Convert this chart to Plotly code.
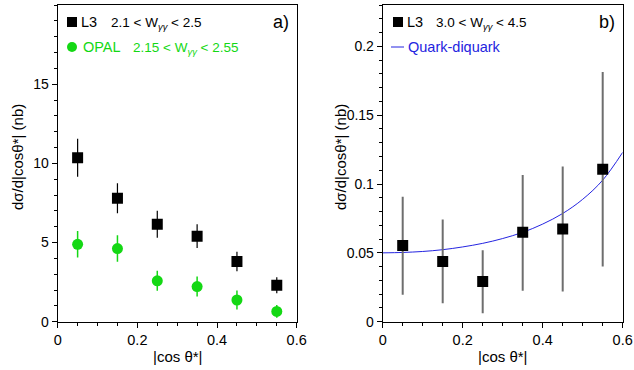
import plotly.graph_objects as go

# ---------------- data ----------------
cos_bins = [0.05, 0.15, 0.25, 0.35, 0.45, 0.55]

# panel a) L3 2.1 < W < 2.5
l3a_y = [10.35, 7.8, 6.15, 5.4, 3.8, 2.3]
l3a_err = [1.2, 0.95, 0.85, 0.75, 0.62, 0.5]

# panel a) OPAL 2.15 < W < 2.55
opal_y = [4.89, 4.62, 2.58, 2.22, 1.37, 0.65]
opal_err = [0.84, 0.84, 0.63, 0.63, 0.6, 0.4]

# panel b) L3 3.0 < W < 4.5
l3b_y = [0.0553, 0.0438, 0.0292, 0.065, 0.0674, 0.1107]
l3b_hi = [0.0908, 0.0742, 0.0518, 0.1066, 0.1127, 0.1813]
l3b_lo = [0.0195, 0.0134, 0.0061, 0.0224, 0.0219, 0.0401]

# quark-diquark curve
qd_x = [0.0, 0.05, 0.1, 0.15, 0.2, 0.25, 0.3, 0.35, 0.4, 0.45, 0.5, 0.55, 0.6]
qd_y = [0.0500, 0.0503, 0.0510, 0.0523, 0.0543, 0.0569, 0.0604, 0.0649, 0.0709,
        0.0786, 0.0889, 0.1028, 0.1230]

x_ticks = [0, 0.2, 0.4, 0.6]
x_ticklabels = ["0", "0.2", "0.4", "0.6"]
ya_ticks = [0, 5, 10, 15]
yb_ticks = [0, 0.05, 0.1, 0.15, 0.2]
yb_ticklabels = ["0", "0.05", "0.1", "0.15", "0.2"]

GREEN = "#14d814"
BLUE = "#2424e0"
GRAY = "#6e6e6e"
FONT = "Liberation Sans, Arial, sans-serif"

W, H = 634, 370
def px(x):
    return x / W
def py(y):
    return 1 - y / H

fig = go.Figure()

up_b = [h - v for h, v in zip(l3b_hi, l3b_y)]
dn_b = [v - l for v, l in zip(l3b_y, l3b_lo)]

fig.add_trace(go.Scatter(x=cos_bins, y=opal_y, mode="markers",
                         marker=dict(symbol="circle", size=11, color=GREEN),
                         error_y=dict(type="data", array=opal_err, width=0,
                                      thickness=1.5, color=GREEN),
                         xaxis="x", yaxis="y", showlegend=False))
fig.add_trace(go.Scatter(x=cos_bins, y=l3a_y, mode="markers",
                         marker=dict(symbol="square", size=11, color="black"),
                         error_y=dict(type="data", array=l3a_err, width=0,
                                      thickness=1.2, color="black"),
                         xaxis="x", yaxis="y", showlegend=False))

fig.add_trace(go.Scatter(x=qd_x, y=qd_y, mode="lines",
                         line=dict(color=BLUE, width=1, shape="spline"),
                         xaxis="x2", yaxis="y2", showlegend=False))
fig.add_trace(go.Scatter(x=cos_bins, y=l3b_y, mode="markers",
                         marker=dict(symbol="square", size=11, color="black"),
                         error_y=dict(type="data", symmetric=False, array=up_b,
                                      arrayminus=dn_b, width=0, thickness=2,
                                      color=GRAY),
                         xaxis="x2", yaxis="y2", showlegend=False))

ybot, ytop = py(321.7), py(5)
common_x = dict(range=[0, 0.6], tickvals=x_ticks, ticktext=x_ticklabels,
                showline=True, linecolor="black", linewidth=1, mirror=True,
                ticks="outside", ticklen=5, tickcolor="black",
                tickfont=dict(size=14.5, color="black", family=FONT),
                showgrid=False, zeroline=False, automargin=False,
                minor=dict(dtick=0.05, ticks="outside", ticklen=3,
                           tickcolor="black", showgrid=False))
common_y = dict(showline=True, linecolor="black", linewidth=1, mirror=True,
                ticks="outside", ticklen=5, tickcolor="black",
                tickfont=dict(size=14, color="black", family=FONT),
                showgrid=False, zeroline=False, automargin=False)

fig.update_layout(
    width=W, height=H,
    margin=dict(l=0, r=0, t=0, b=0),
    paper_bgcolor="white", plot_bgcolor="white",
    font=dict(family=FONT, color="black"),
    xaxis=dict(domain=[px(57.7), px(296.7)], anchor="y", **common_x),
    yaxis=dict(domain=[ybot, ytop], anchor="x", range=[0, 20],
               tickvals=ya_ticks,
               minor=dict(dtick=1, ticks="outside", ticklen=3,
                          tickcolor="black", showgrid=False),
               **common_y),
    xaxis2=dict(domain=[px(382.7), px(622.7)], anchor="y2", **common_x),
    yaxis2=dict(domain=[ybot, ytop], anchor="x2", range=[0, 0.23],
                tickvals=yb_ticks, ticktext=yb_ticklabels,
                minor=dict(dtick=0.01, ticks="outside", ticklen=3,
                           tickcolor="black", showgrid=False),
                **common_y),
)

ann = []
def text(x, y, s, size=14, color="black", xanchor="left", angle=0):
    ann.append(dict(x=px(x), y=py(y), xref="paper", yref="paper", text=s,
                    showarrow=False, xanchor=xanchor, yanchor="middle",
                    textangle=angle, font=dict(size=size, color=color, family=FONT)))

wgg = "W<sub><i>γγ</i></sub>"
# panel a legend
text(79, 22, "L3", size=14.5)
text(109, 23, f"2.1 &lt; {wgg} &lt; 2.5", size=13.5)
text(81, 47, "OPAL", size=14.5, color=GREEN)
text(131, 48, f"2.15 &lt; {wgg} &lt; 2.55", size=13.5, color=GREEN)
text(291, 22, "a)", size=18, xanchor="right")
# panel b legend
text(405, 22, "L3", size=14.5)
text(434, 23, f"3.0 &lt; {wgg} &lt; 4.5", size=13.5)
text(406, 47, "Quark-diquark", size=14.5, color=BLUE)
text(617, 22, "b)", size=18, xanchor="right")
# axis titles
text(177, 356, "|cos θ*|", size=15, xanchor="center")
text(502.7, 356, "|cos θ*|", size=15, xanchor="center")
text(17, 157, "dσ/d|cosθ*| (nb)", size=15, xanchor="center", angle=-90)
text(340, 157, "dσ/d|cosθ*| (nb)", size=15, xanchor="center", angle=-90)
fig.update_layout(annotations=ann)

# legend keys
shapes = [
    dict(type="rect", xref="paper", yref="paper", x0=px(67), x1=px(77),
         y0=py(27), y1=py(17), fillcolor="black", line=dict(width=0)),
    dict(type="circle", xref="paper", yref="paper", x0=px(67), x1=px(77),
         y0=py(52), y1=py(42), fillcolor=GREEN, line=dict(width=0)),
    dict(type="rect", xref="paper", yref="paper", x0=px(393), x1=px(403),
         y0=py(27), y1=py(17), fillcolor="black", line=dict(width=0)),
    dict(type="line", xref="paper", yref="paper", x0=px(391), x1=px(404),
         y0=py(47), y1=py(47), line=dict(color=BLUE, width=1)),
]
fig.update_layout(shapes=shapes)

fig.write_html("out.html",
               config={"displayModeBar": False},
               post_script="document.body.style.margin='0';"
                           "document.body.style.overflow='hidden';")
